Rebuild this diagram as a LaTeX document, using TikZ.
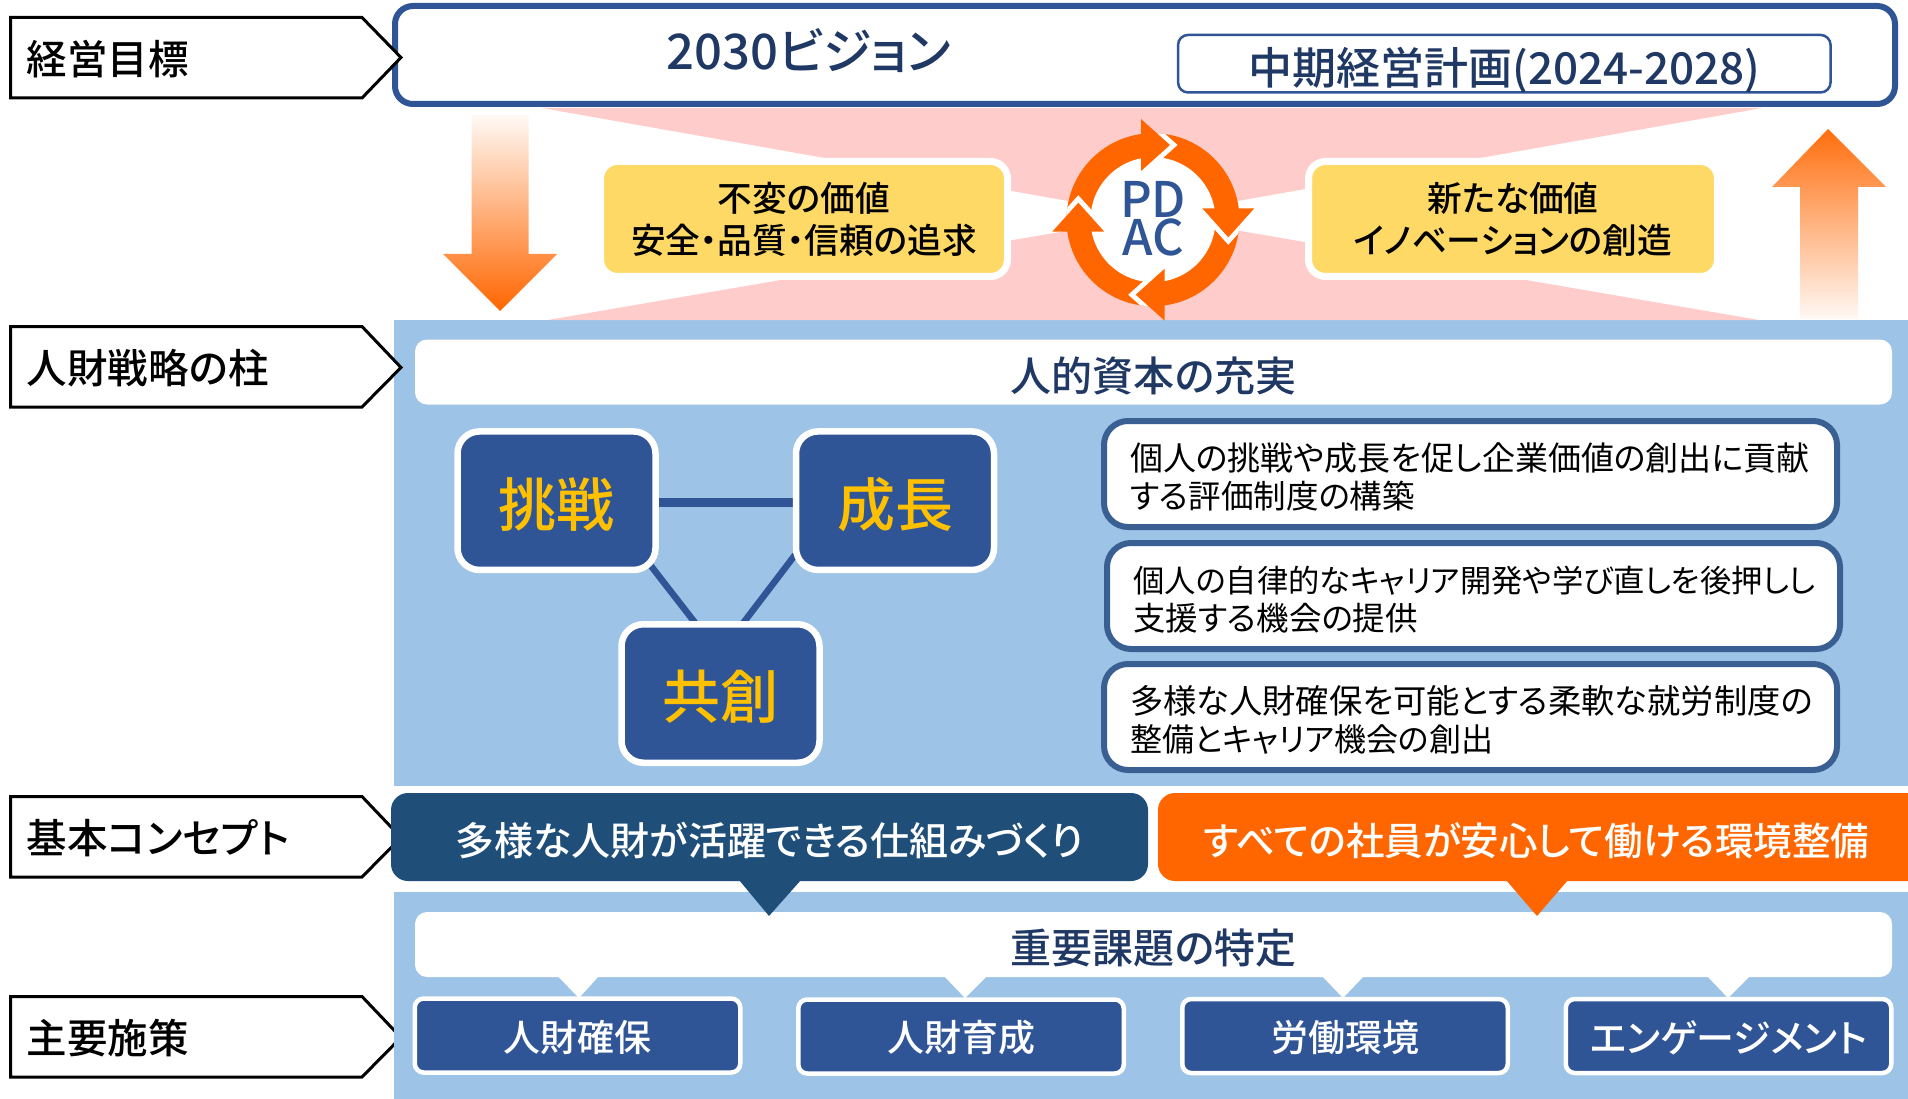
\documentclass[tikz,border=0pt]{standalone}
\usepackage{fontspec}
\setmainfont[RawFeature=+palt]{Noto Sans CJK JP}
\newfontfamily\jpm[RawFeature=+palt]{Noto Sans CJK JP Medium}
\usetikzlibrary{calc}
\definecolor{cnavy}{HTML}{1F3864}
\definecolor{cblue}{HTML}{2F5597}
\definecolor{cpanel}{HTML}{9DC3E6}
\definecolor{cdeep}{HTML}{1F4E79}
\definecolor{corange}{HTML}{FF6600}
\definecolor{cyellow}{HTML}{FFD966}
\definecolor{cpink}{HTML}{FFCCCC}
\definecolor{cgold}{HTML}{FFC000}
\definecolor{cframe}{HTML}{3A5F92}
\newcommand{\fs}[2]{\fontsize{#1}{#2}\selectfont}
\newcommand{\lead}{\rule{0pt}{34pt}}
\newcommand{\lowered}[2]{\raisebox{-#1pt}[\height][\depth]{#2}}
\pgfdeclarelayer{under}
\pgfsetlayers{under,main}
\tikzset{
  x=1pt,y=-1pt,
  base/.style={inner sep=0pt,outer sep=0pt,align=center},
  labelpent/.style={draw=black,fill=white,line width=3pt,miter limit=10},
  labeltext/.style={base,anchor=west,font=\jpm\fs{40.5}{46},text=black},
  yellowbox/.style={base,fill=cyellow,draw=white,line width=7pt,rounded corners=17pt,minimum width=407pt,minimum height=115pt,font=\jpm\fs{34.7}{42},text=black},
  banner/.style={base,fill=white,rounded corners=12pt,minimum width=1477pt,minimum height=65pt,font=\jpm\fs{41}{46},text=cnavy},
  triad/.style={base,fill=cblue,draw=white,line width=6.5pt,rounded corners=22pt,minimum width=198pt,minimum height=138.5pt,font=\jpm\fs{58}{66},text=cgold},
  textbox/.style={base,align=left,anchor=west,fill=white,draw=cframe,line width=6pt,rounded corners=24pt,minimum height=106pt,inner xsep=26pt,font=\fs{33}{38},text=black},
  measure/.style={base,fill=cblue,draw=white,line width=4.5pt,rounded corners=9pt,minimum width=325.5pt,minimum height=74pt,font=\jpm\fs{37}{42},text=white},
  concept/.style={base,rounded corners=17pt,minimum height=88pt,font=\jpm\fs{39}{42},text=white},
  link/.style={draw=cblue},
}
\begin{document}
\begin{tikzpicture}
\clip (0,0) rectangle (1908,1099);
\begin{pgfonlayer}{under}
  \fill[white] (0,0) rectangle (1908,1099);
\end{pgfonlayer}

% pale band behind the values
\fill[cpink] (542,108) -- (1762,108) -- (1153,216) -- (1759,320) -- (548,320) -- (1153,216) -- cycle;

% gradient arrows
\shade[top color=white!96!corange,bottom color=corange]
  (471.5,115) -- (528.5,115) -- (528.5,254) -- (557,254) -- (500,311) -- (443,254) -- (471.5,254) -- cycle;
\shade[top color=white!5!corange,bottom color=white!96!corange]
  (1828,129) -- (1886,187) -- (1858,187) -- (1858,319) -- (1800,319) -- (1800,187) -- (1772,187) -- cycle;

% top goals frame
\node[base,draw=cblue,fill=white,line width=6pt,rounded corners=18pt,minimum width=1500pt,minimum height=98pt] (goal) at (1145,55) {};
\node[base,font=\jpm\fs{49}{50},text=cnavy] (vision) at (809,51) {2030ビジョン};
\node[base,draw=cblue,fill=white,line width=2.5pt,rounded corners=10pt,minimum width=652.5pt,minimum height=57.5pt,font=\jpm\fs{44}{46},text=cnavy] (plan) at (1504.3,63.7) {\lowered{7}{中期経営計画(2024-2028)}};

% values
\node[yellowbox] (keep) at (804,219) {不変の価値\\安全・品質・信頼の追求};
\node[yellowbox,minimum width=409pt] (newv) at (1513,219) {新たな価値\\イノベーションの創造};

% PDCA ring
\fill[corange] (1153,219.7) circle (86.5);
\begin{scope}
  \clip (1153,219.7) circle (86.5);
  \draw[white,line width=10pt,miter limit=10] (1141,119) -- (1170,145) -- (1141,171);
  \draw[white,line width=10pt,miter limit=10] (1254.3,208.3) -- (1228.3,237.3) -- (1202.3,208.3);
  \draw[white,line width=10pt,miter limit=10] (1164.7,320.7) -- (1135.7,294.7) -- (1164.7,268.7);
  \draw[white,line width=10pt,miter limit=10] (1052.3,231.7) -- (1078.3,202.7) -- (1104.3,231.7);
\end{scope}
\fill[white] (1153,219.7) circle (62.5);
\fill[corange] (1141,119) -- (1170,145) -- (1141,171) -- cycle;
\fill[corange] (1254.3,208.3) -- (1228.3,237.3) -- (1202.3,208.3) -- cycle;
\fill[corange] (1164.7,320.7) -- (1135.7,294.7) -- (1164.7,268.7) -- cycle;
\fill[corange] (1052.3,231.7) -- (1078.3,202.7) -- (1104.3,231.7) -- cycle;
\node[base,font=\jpm\fs{49}{38.5},text=cblue] (pdca) at (1153,219) {PD\\AC};

% blue panels and what sits beneath them
\begin{pgfonlayer}{under}
  \fill[cpanel] (394,320) rectangle (1908,786);
  \draw[labelpent] (10.5,996.5) -- (362,996.5) -- (401,1037.5) -- (362,1077) -- (10.5,1077) -- cycle;
  \draw[labelpent] (10.5,796.5) -- (362,796.5) -- (401,837.5) -- (362,877) -- (10.5,877) -- cycle;
  \fill[cpanel] (394,892) rectangle (1908,1099);
\end{pgfonlayer}

% row labels
\draw[labelpent] (10.5,17.5) -- (362,17.5) -- (401,57.5) -- (362,98) -- (10.5,98) -- cycle;
\draw[labelpent] (10.5,326.5) -- (362,326.5) -- (401,367.5) -- (362,407) -- (10.5,407) -- cycle;
\node[labeltext] (lab1) at (27,59) {経営目標};
\node[labeltext] (lab2) at (27,368) {人財戦略の柱};
\node[labeltext] (lab3) at (27,838) {基本コンセプト};
\node[labeltext] (lab4) at (27,1038) {主要施策};

% human capital section
\node[banner] (capital) at (1153.5,372) {\lowered{3.6}{人的資本の充実}};
\node[triad] (chal) at (556.5,500.7) {\lowered{3.6}{挑戦}};
\node[triad] (grow) at (895,500.7) {\lowered{3.6}{成長}};
\node[triad] (cocr) at (720.5,693.5) {\lowered{3}{共創}};
\begin{pgfonlayer}{under}
  \draw[link,line width=9pt] ([yshift=-2pt]chal.east) -- ([yshift=-2pt]grow.west);
  \draw[link,line width=6.5pt] ([shift={(-11.5pt,13pt)}]chal.south east) -- ([shift={(75.5pt,-1pt)}]cocr.north west);
  \draw[link,line width=6.5pt] ([shift={(-1pt,15pt)}]grow.south west) -- ([shift={(-78pt,-1pt)}]cocr.north east);
\end{pgfonlayer}

\node[textbox,text width=681pt] (t1) at (1104,474) {\lead 個人の挑戦や成長を促し企業価値の創出に貢献\\{\fs{32.5}{38}する評価制度の構築}};
\node[textbox,text width=681pt] (t2) at (1107,596) {\lead{\fs{31.3}{38}個人の自律的なキャリア開発や学び直しを後押しし}\\{\fs{32.5}{38}支援する機会の提供}};
\node[textbox,text width=681pt] (t3) at (1104,717) {\lead{\fs{33.3}{38}多様な人財確保を可能とする柔軟な就労制度の}\\{\fs{32}{38}整備とキャリア機会の創出}};

% lower section
\node[banner] (issue) at (1153.5,944.5) {\lowered{3.6}{重要課題の特定}};
\node[measure] (m1) at (577.5,1035.5) {\lowered{1.5}{人財確保}};
\node[measure] (m2) at (961,1036.5) {\lowered{1}{人財育成}};
\node[measure] (m3) at (1345,1036) {\lowered{1.5}{労働環境}};
\node[measure] (m4) at (1728.5,1036) {\lowered{1.5}{\fs{38}{42}エンゲージメント}};
\fill[white] (557.5,976) -- (599,976) -- (579,998) -- cycle;
\fill[white] (944,976) -- (987,976) -- (965,998) -- cycle;
\fill[white] (1322,976) -- (1364,976) -- (1343,998) -- cycle;
\fill[white] (1707,976) -- (1750,976) -- (1728,998) -- cycle;

\node[concept,fill=cdeep,minimum width=757pt] (c1) at (769.5,837) {\lowered{3.6}{多様な人財が活躍できる仕組みづくり}};
\node[concept,fill=corange,minimum width=770pt] (c2) at (1543,837) {\hspace*{-13pt}\lowered{3.6}{\fs{38.5}{42}すべての社員が安心して働ける環境整備}};
\fill[cdeep] (739,880) -- (801,880) -- (769,916) -- cycle;
\fill[corange] (1506,880) -- (1568,880) -- (1537,916) -- cycle;
\end{tikzpicture}
\end{document}
